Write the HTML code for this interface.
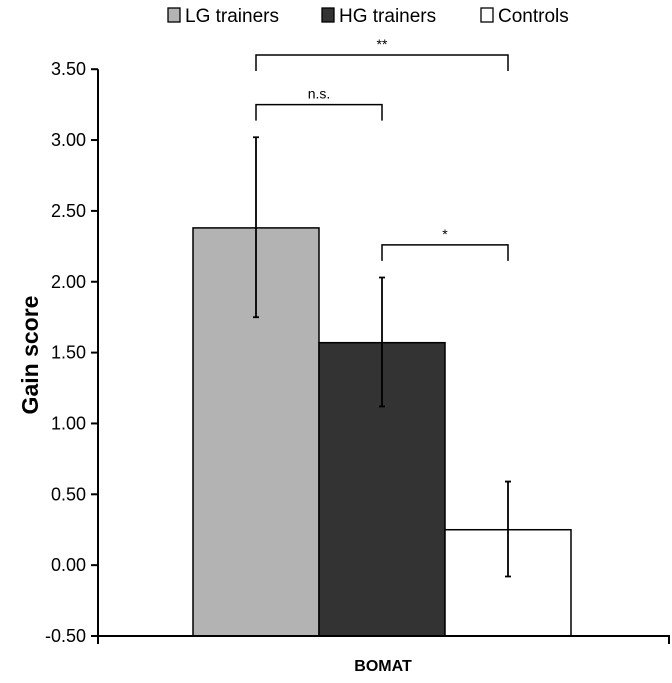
<!DOCTYPE html>
<html><head><meta charset="utf-8"><style>
body{margin:0;background:#fff;}
svg{display:block;font-family:"Liberation Sans",sans-serif;}
</style></head><body>
<svg id="c" width="672" height="683"></svg>
<script>
const categories=["LG trainers","HG trainers","Controls"];
const values=[2.38,1.57,0.25];
const errLow=[1.75,1.12,-0.08];
const errHigh=[3.02,2.03,0.59];
const colors=["#b3b3b3","#333333","#ffffff"];
const ticks=[-0.5,0,0.5,1,1.5,2,2.5,3,3.5];
const sigLabels=["**","n.s.","*"];
const sigPairs=[[0,2],[0,1],[1,2]];
const sigLevels=[3.6,3.25,2.26];
const svg=document.getElementById('c');
const NS='http://www.w3.org/2000/svg';
function y(v){return 636-(v+0.5)*141.7;}
function mk(t,a,p){const e=document.createElementNS(NS,t);for(const k in a)e.setAttribute(k,a[k]);(p||svg).appendChild(e);return e;}
const barX=i=>193+i*126, barW=126;
values.forEach((v,i)=>{
 const r=mk('rect',{x:barX(i),y:y(v),width:barW,height:y(-0.5)-y(v),fill:colors[i],stroke:'#000','stroke-width':1.5});
 
 
 const cx=barX(i)+barW/2;
 const e=mk('path',{d:`M${cx},${y(errLow[i])}V${y(errHigh[i])}M${cx-3},${y(errLow[i])}H${cx+3}M${cx-3},${y(errHigh[i])}H${cx+3}`,stroke:'#000','stroke-width':1.8,fill:'none'});
 
 
});
const ax=mk('path',{d:`M98,${y(3.5)}V${y(-0.5)}H669V${y(-0.5)+8}`,stroke:'#000','stroke-width':2,fill:'none'});


ticks.forEach(t=>{
 mk('line',{x1:91,x2:98,y1:y(t),y2:y(t),stroke:'#000','stroke-width':2});
 const tx=mk('text',{x:86,y:y(t)+6,'text-anchor':'end','font-size':18,fill:'#000'});
 tx.textContent=t.toFixed(2);
 
 
});
mk('line',{x1:98,x2:98,y1:y(-0.5),y2:y(-0.5)+8,stroke:'#000','stroke-width':2});
sigPairs.forEach((p,k)=>{
 const x1=barX(p[0])+barW/2,x2=barX(p[1])+barW/2,yy=y(sigLevels[k]);
 const b=mk('path',{d:`M${x1},${yy+16}V${yy}H${x2}V${yy+16}`,stroke:'#000','stroke-width':1.5,fill:'none'});
 
 
 const t=mk('text',{x:(x1+x2)/2,y:yy-6,'text-anchor':'middle','font-size':14});
 t.textContent=sigLabels[k];
 
 
});
const yt=mk('text',{x:0,y:0,transform:'translate(38,355) rotate(-90)','text-anchor':'middle','font-size':23,'font-weight':'bold'});
yt.textContent='Gain score';


const xt=mk('text',{x:383,y:671,'text-anchor':'middle','font-size':16,'font-weight':'bold'});
xt.textContent='BOMAT';


const lx=[168,322,481];
categories.forEach((c,i)=>{
 const g=mk('g',{});
 
 
 mk('rect',{x:lx[i],y:8,width:12,height:14,fill:colors[i],stroke:'#000','stroke-width':1.3},g);
 const t=mk('text',{x:lx[i]+17,y:22,'font-size':19},g);
 t.textContent=c;
});
</script>
</body></html>
